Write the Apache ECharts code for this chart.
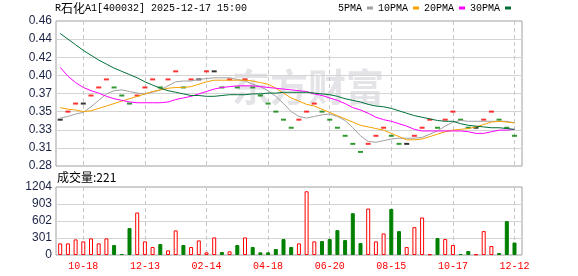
<!DOCTYPE html>
<html><head><meta charset="utf-8">
<script src="https://cdn.jsdelivr.net/npm/echarts@6/dist/echarts.min.js"></script>
<style>html,body{margin:0;padding:0;background:#fff}#c{width:578px;height:276px}</style>
</head><body><div id="c"></div>
<script>
// ---- data ----
const closes = [0.34,0.35,0.36,0.36,0.37,0.38,0.39,0.38,0.37,0.36,
  0.37,0.38,0.39,0.38,0.39,0.40,0.38,0.39,0.39,0.40,
  0.40,0.38,0.39,0.38,0.39,0.38,0.37,0.36,0.35,0.34,
  0.33,0.34,0.35,0.36,0.35,0.34,0.33,0.32,0.31,0.30,
  0.31,0.32,0.33,0.32,0.31,0.31,0.32,0.33,0.34,0.33,
  0.34,0.35,0.34,0.33,0.33,0.34,0.35,0.34,0.33,0.32];
const volumes = [206,206,276,241,294,206,294,176,18,476,
  752,241,141,194,82,435,176,141,258,47,
  311,53,65,176,311,141,47,47,106,282,
  141,206,1128,241,247,282,440,264,740,211,
  822,241,382,816,423,141,493,664,12,300,
  282,176,18,70,12,423,159,35,599,221];
const ma5 = [0.342,0.344,0.347,0.349,0.356,0.364,0.372,0.376,0.377,0.375,
  0.373,0.372,0.374,0.377,0.382,0.387,0.388,0.388,0.390,0.391,
  0.392,0.392,0.392,0.390,0.388,0.384,0.381,0.376,0.369,0.360,
  0.350,0.344,0.342,0.344,0.346,0.347,0.344,0.339,0.330,0.320,
  0.313,0.312,0.314,0.316,0.317,0.317,0.317,0.318,0.322,0.326,
  0.332,0.337,0.339,0.338,0.338,0.338,0.338,0.338,0.338,0.336];
const ma10 = [0.355,0.353,0.352,0.350,0.351,0.354,0.357,0.360,0.363,0.366,
  0.369,0.372,0.375,0.377,0.379,0.380,0.380,0.381,0.384,0.387,
  0.389,0.389,0.389,0.389,0.389,0.388,0.386,0.384,0.379,0.373,
  0.367,0.363,0.359,0.357,0.353,0.349,0.345,0.341,0.337,0.333,
  0.331,0.329,0.327,0.323,0.319,0.315,0.315,0.316,0.319,0.322,
  0.325,0.327,0.328,0.329,0.331,0.334,0.337,0.338,0.337,0.336];
const ma20 = [0.405,0.394,0.386,0.380,0.376,0.373,0.369,0.366,0.364,0.362,
  0.361,0.361,0.361,0.361,0.362,0.365,0.367,0.369,0.372,0.375,
  0.378,0.380,0.381,0.382,0.382,0.382,0.381,0.380,0.379,0.378,
  0.377,0.376,0.375,0.372,0.370,0.367,0.364,0.360,0.355,0.352,
  0.348,0.343,0.340,0.338,0.335,0.332,0.328,0.326,0.326,0.326,
  0.326,0.326,0.326,0.325,0.323,0.323,0.325,0.327,0.327,0.328];
const ma30 = [0.447,0.440,0.433,0.426,0.420,0.414,0.409,0.404,0.400,0.396,
  0.392,0.387,0.383,0.379,0.376,0.374,0.372,0.370,0.370,0.369,
  0.369,0.370,0.371,0.371,0.371,0.372,0.372,0.373,0.373,0.374,
  0.374,0.374,0.374,0.373,0.372,0.371,0.369,0.366,0.364,0.362,
  0.359,0.357,0.356,0.354,0.351,0.348,0.345,0.343,0.341,0.339,
  0.338,0.338,0.335,0.333,0.332,0.331,0.330,0.330,0.329,0.328];
const xTickLabels = ['10-18','12-13','02-14','04-18','06-20','08-15','10-17','12-12'];
const xTickIndex = [3,11,19,27,35,43,51,59];
const priceTicks = ['0.28','0.31','0.33','0.35','0.37','0.40','0.42','0.44','0.46'];
const volTicks = [0,301,602,903,1204];
const priceMin = 0.2825, priceMax = 0.4625;
const seriesNames = ['5PMA','10PMA','20PMA','30PMA'];
const titleParts = ['R', '石化', 'A1[400032] 2025-12-17 15:00'];
const volLabel = '成交量';

// ---- derived helpers ----
const categories = closes.map((_, i) => String(i));
const labelAt = {};
xTickIndex.forEach((idx, k) => { labelAt[idx] = xTickLabels[k]; });
const dir = closes.map((c, i) => i === 0 ? 0 : Math.sign(Math.round((c - closes[i - 1]) * 1000)));
const UP = '#ff0000', DOWN = '#008000', FLAT = '#000000';
const MONO = '"Liberation Mono","DejaVu Sans Mono",monospace';
const CJK = '"Noto Sans CJK SC",sans-serif';
const SANS = '"Liberation Sans",Arial,sans-serif';
const lineColors = ['#a0a0a0', '#f4a100', '#ff00ff', '#007038'];
const maData = [ma5, ma10, ma20, ma30];
const showTick = (i) => labelAt[i] !== undefined;
const vLine = {show: true, interval: showTick, lineStyle: {color: '#c8c8c8', width: 1, type: [4, 3]}};
const hLine = {show: true, showMinLine: false, showMaxLine: false, lineStyle: {color: '#d4d4d4', width: 1}};

const chart = echarts.init(document.getElementById('c'), null, {renderer: 'canvas'});
chart.setOption({
  animation: false,
  backgroundColor: '#ffffff',
  title: [
    {left: 55, top: 2, padding: 0,
      text: '{a|' + titleParts[0] + '}{b|' + titleParts[1] + '}{a|' + titleParts[2] + '}',
      textStyle: {fontSize: 10, fontWeight: 'normal', rich: {
        a: {fontFamily: MONO, fontSize: 10, color: '#000', fontWeight: 'normal', lineHeight: 12},
        b: {fontFamily: CJK, fontSize: 12, color: '#000', fontWeight: 'normal', lineHeight: 12}}}},
    {left: 57, top: 171, padding: 0, text: volLabel + ':' + volumes[volumes.length - 1],
      textStyle: {fontFamily: CJK, fontSize: 12, fontWeight: 'normal', color: '#000'}}
  ],
  legend: {left: 338, top: 3, padding: 0, align: 'right', icon: 'rect', itemWidth: 6, itemHeight: 3, itemGap: 5,
    textStyle: {fontFamily: MONO, fontSize: 10, color: '#000'}, data: seriesNames, selectedMode: false},
  graphic: [{type: 'text', left: 232, top: 68, z: -10, silent: true,
    style: {text: '东方财富', font: 'bold 38px "Noto Sans CJK SC"', fill: '#e3e3e8'}}],
  grid: [
    {left: 56, top: 21, width: 466, height: 145, show: true, borderColor: '#a0a0a0', borderWidth: 1, backgroundColor: 'transparent'},
    {left: 60.2, top: 21, width: 454.3, height: 145},
    {left: 56, top: 187, width: 466, height: 68, show: true, borderColor: '#a0a0a0', borderWidth: 1, backgroundColor: 'transparent'},
    {left: 60.2, top: 187, width: 454.3, height: 68}
  ],
  xAxis: [
    {gridIndex: 0, type: 'value', min: 0, max: 1, show: false},
    {gridIndex: 1, type: 'category', data: categories, boundaryGap: false,
      axisLine: {show: false}, axisTick: {show: false}, axisLabel: {show: false}, splitLine: vLine},
    {gridIndex: 2, type: 'value', min: 0, max: 1, show: false},
    {gridIndex: 3, type: 'category', data: categories, boundaryGap: false,
      axisLine: {show: false}, axisTick: {show: false},
      axisLabel: {show: true, interval: showTick, formatter: (v) => labelAt[+v] || '',
        color: '#ff0000', fontFamily: MONO, fontSize: 10, margin: 6},
      splitLine: vLine}
  ],
  yAxis: [
    {gridIndex: 0, type: 'value', min: 0, max: priceTicks.length - 1, interval: 1,
      axisLine: {show: false}, axisTick: {show: false},
      axisLabel: {formatter: (v) => priceTicks[Math.round(v)], color: '#1c2445', fontFamily: SANS, fontSize: 12, margin: 4},
      splitLine: hLine},
    {gridIndex: 1, type: 'value', min: priceMin, max: priceMax, show: false, splitLine: {show: false}},
    {gridIndex: 2, type: 'value', min: volTicks[0], max: volTicks[volTicks.length - 1], interval: volTicks[1] - volTicks[0],
      axisLine: {show: false}, axisTick: {show: false},
      axisLabel: {formatter: (v) => String(Math.round(v)), color: '#1c2445', fontFamily: SANS, fontSize: 12, margin: 4},
      splitLine: hLine},
    {gridIndex: 3, type: 'value', min: volTicks[0], max: volTicks[volTicks.length - 1], show: false, splitLine: {show: false}}
  ],
  series: [
    {type: 'scatter', name: 'K', xAxisIndex: 1, yAxisIndex: 1, symbol: 'rect', symbolSize: [5, 2], clip: false, silent: true, z: 2,
      data: closes.map((c, i) => ({value: [i, c], itemStyle: {color: dir[i] > 0 ? UP : dir[i] < 0 ? DOWN : FLAT}}))},
    ...seriesNames.map((n, k) => ({type: 'line', name: n, xAxisIndex: 1, yAxisIndex: 1, data: maData[k],
      symbol: 'none', showSymbol: false, silent: true, z: 3, color: lineColors[k],
      lineStyle: {width: 1, color: lineColors[k]}})),
    {type: 'bar', name: 'VOL', xAxisIndex: 3, yAxisIndex: 3, barWidth: 4, clip: false, silent: true,
      data: volumes.map((v, i) => ({value: v, itemStyle: dir[i] < 0
        ? {color: DOWN, borderColor: DOWN, borderWidth: 1}
        : {color: '#ffffff', borderColor: UP, borderWidth: 1}}))}
  ]
});
</script></body></html>
